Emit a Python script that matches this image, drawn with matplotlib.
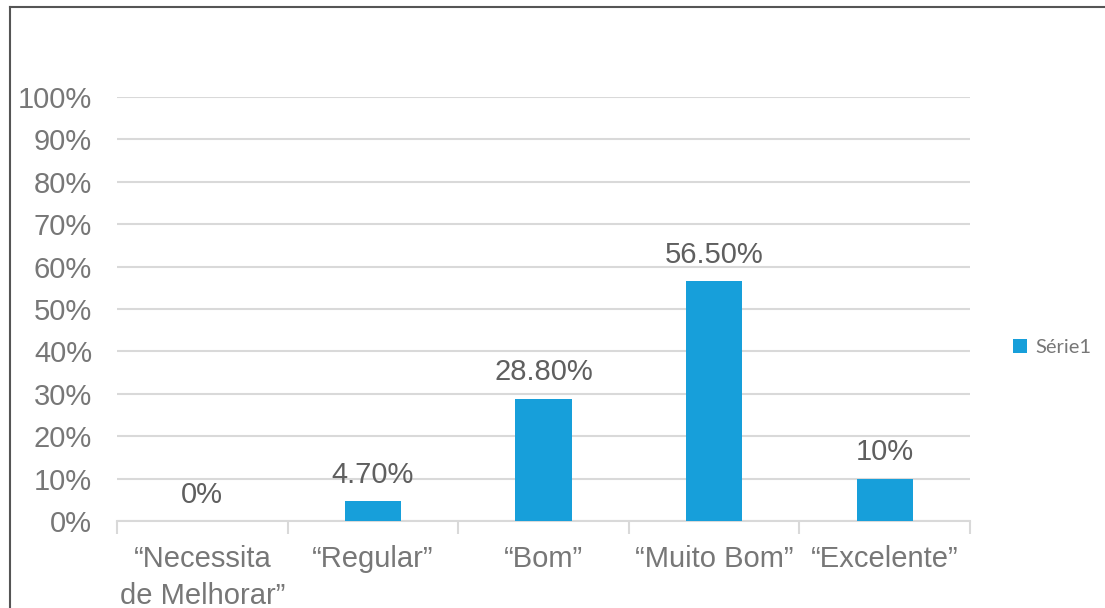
import matplotlib
matplotlib.use("Agg")
import matplotlib.pyplot as plt
from matplotlib.lines import Line2D
from matplotlib.ticker import FixedLocator, NullFormatter

categories = ["\u201cNecessita\nde Melhorar\u201d", "\u201cRegular\u201d", "\u201cBom\u201d",
              "\u201cMuito Bom\u201d", "\u201cExcelente\u201d"]
values = [0.0, 0.047, 0.288, 0.565, 0.10]
labels = ["0%", "4.70%", "28.80%", "56.50%", "10%"]
series_name = "Série1"
yticks = [i / 10 for i in range(11)]
ytick_labels = [f"{i*10}%" for i in range(11)]

BAR = "#179FDA"
TXT = "#777777"
DLBL = "#5F5F5F"
GRID = "#D9D9D9"

plt.rcParams["font.family"] = ["Liberation Sans", "DejaVu Sans"]

fig = plt.figure(figsize=(11.05, 6.08), dpi=100)
ax = fig.add_axes([0.1059, 0.143, 0.772, 0.6975])

x = list(range(len(categories)))
ax.bar(x, values, width=0.33, color=BAR, label=series_name, zorder=3)
ax.set_xlim(-0.5, len(categories) - 0.5)
ax.set_ylim(0, 1)

ax.set_yticks(yticks)
ax.set_yticklabels(ytick_labels, fontsize=21, color=TXT)
ax.tick_params(axis="y", length=0, pad=18)
ax.yaxis.grid(True, color=GRID, linewidth=1.5, zorder=0)

ax.set_xticks(x)
ax.set_xticklabels(categories, fontsize=21, color=TXT, linespacing=1.42)
ax.tick_params(axis="x", which="major", length=0, pad=17)
ax.xaxis.set_minor_locator(FixedLocator([i - 0.5 for i in range(len(categories) + 1)]))
ax.xaxis.set_minor_formatter(NullFormatter())
ax.tick_params(axis="x", which="minor", length=9, width=1.5, color=GRID, direction="out")

for s in ["top", "right", "left"]:
    ax.spines[s].set_visible(False)
ax.spines["bottom"].set_color(GRID)
ax.spines["bottom"].set_linewidth(1.5)

for xi, v, lab in zip(x, values, labels):
    ax.annotate(lab, (xi, v), xytext=(0, 9), textcoords="offset points",
                ha="center", va="bottom", fontsize=21, color=DLBL)

leg = ax.legend(loc="center left", bbox_to_anchor=(1.029, 0.41), frameon=False,
                prop={"family": ["Lato", "DejaVu Sans"], "size": 14.5},
                handlelength=0.7, handleheight=0.7, handletextpad=0.4)
for t in leg.get_texts():
    t.set_color(TXT)

# outer chart border (left and top)
fig.add_artist(Line2D([10/1105, 10/1105], [0, 1 - 7/608], transform=fig.transFigure,
                      color="#555555", linewidth=1.5))
fig.add_artist(Line2D([10/1105, 1], [1 - 7/608, 1 - 7/608], transform=fig.transFigure,
                      color="#555555", linewidth=1.5))

fig.savefig("out.png", dpi=100)
